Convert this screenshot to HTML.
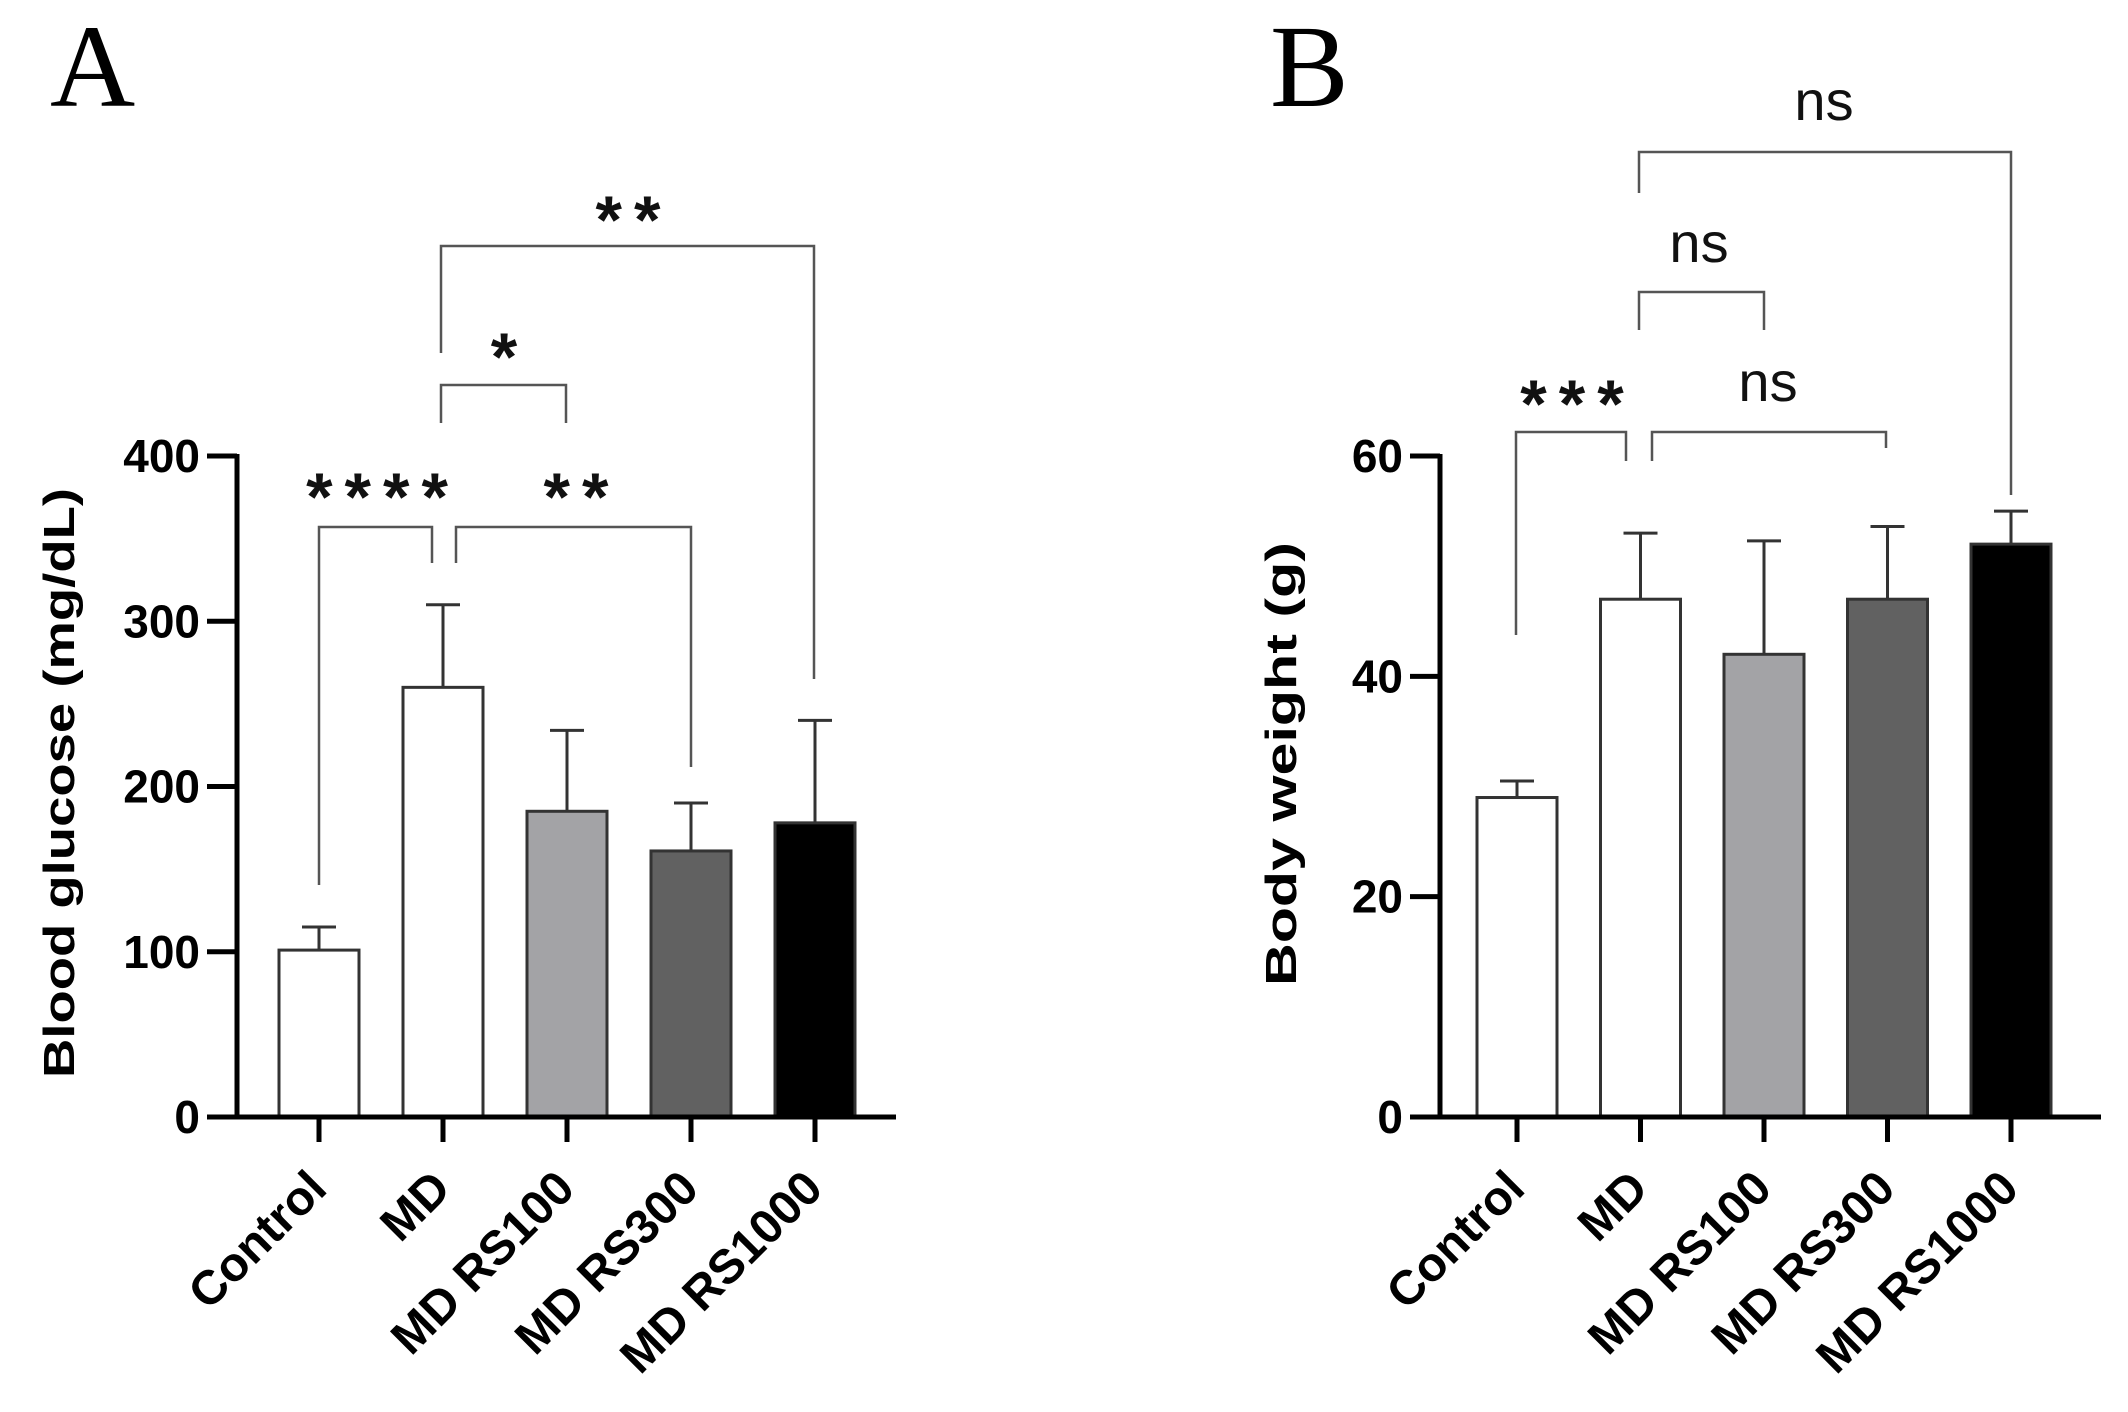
<!DOCTYPE html>
<html><head><meta charset="utf-8"><style>
html,body{margin:0;padding:0;background:#fff;}
svg{display:block;}
text{font-family:"Liberation Sans",Arial,sans-serif;}
</style></head><body>
<svg id="chart" width="2128" height="1412" viewBox="0 0 2128 1412" xmlns="http://www.w3.org/2000/svg">
<text x="50" y="106" style="font-family:'Liberation Serif',serif" font-size="118">A</text>
<text x="1270" y="106" style="font-family:'Liberation Serif',serif" font-size="118">B</text>
<g id="pa"></g>
<g id="pb"></g>
</svg>
<script>
const categories = ["Control","MD","MD RS100","MD RS300","MD RS1000"];
const glucoseMeans = [101, 260, 185, 161, 178];
const glucoseErr = [14, 50, 49, 29, 62];
const glucoseTicks = [0, 100, 200, 300, 400];
const weightMeans = [29, 47, 42, 47, 52];
const weightErr = [1.5, 6, 10.3, 6.6, 3];
const weightTicks = [0, 20, 40, 60];
const fills = ["#ffffff","#ffffff","#a3a3a6","#616161","#000000"];
const glucoseSig = [["****",0,1],["**",1,3],["*",1,2],["**",1,4]];
const weightSig = [["***",0,1],["ns",1,3],["ns",1,2],["ns",1,4]];

const NS = "http://www.w3.org/2000/svg";
function mk(parent, tag, attrs){ const e=document.createElementNS(NS,tag); for(const k in attrs) e.setAttribute(k,attrs[k]); parent.appendChild(e); return e; }

function drawPanel(g, cfg){
  const y0=1117, yTop=456;
  const yScale = v => y0 - (v/cfg.ymax)*(y0-yTop);
  const xScale = i => cfg.x0 + i*cfg.step;
  cfg.means.forEach((m,i)=>{
    const cx=xScale(i), top=yScale(m), et=yScale(m+cfg.err[i]);
    const el=mk(g,'line',{x1:cx,x2:cx,y1:top,y2:et,stroke:'#333','stroke-width':3});
    
    
    const cap=mk(g,'line',{x1:cx-17,x2:cx+17,y1:et,y2:et,stroke:'#333','stroke-width':3});
    
    
    const r=mk(g,'rect',{x:cx-40,y:top,width:80,height:y0-top,fill:fills[i],stroke:'#333','stroke-width':3});
    
    
  });
  const ya=mk(g,'line',{x1:cfg.ax,x2:cfg.ax,y1:yTop-2,y2:y0+2,stroke:'#000','stroke-width':5});
  
  
  const xa=mk(g,'line',{x1:cfg.ax-2,x2:cfg.xend,y1:y0,y2:y0,stroke:'#000','stroke-width':5});
  
  
  cfg.ticks.forEach(t=>{
    const y=yScale(t);
    const tk=mk(g,'line',{x1:cfg.ax-30,x2:cfg.ax,y1:y,y2:y,stroke:'#000','stroke-width':5});
    
    
    const tl=mk(g,'text',{x:cfg.ax-37,y:y+16,'text-anchor':'end','font-size':46,'font-weight':'bold'});
    tl.textContent=t;
    
    
  });
  categories.forEach((c,i)=>{
    const cx=xScale(i);
    const tk=mk(g,'line',{x1:cx,x2:cx,y1:y0,y2:y0+25,stroke:'#000','stroke-width':5});
    
    
    const tl=mk(g,'text',{x:0,y:0,'text-anchor':'end','font-size':48,'font-weight':'bold',transform:`translate(${cx+10},${y0+74}) rotate(-45)`});
    tl.textContent=c;
    
    
  });
  const yt=mk(g,'text',{x:0,y:0,'text-anchor':'middle','font-size':44,'font-weight':'bold',textLength:cfg.titleLen,lengthAdjust:'spacingAndGlyphs',transform:`translate(${cfg.titleX},${cfg.titleY}) rotate(-90)`});
  yt.textContent=cfg.title;
  
  
  cfg.sig.forEach((s,k)=>{
    const b=cfg.brk[k];
    const p=mk(g,'path',{d:`M${b[0]},${b[3]} V${b[2]} H${b[1]} V${b[4]}`,fill:'none',stroke:'#555','stroke-width':2.5});
    
    
    const isStar=s[0].indexOf('*')>=0;
    const t=mk(g,'text',{x:b[5],y:isStar?b[6]+38:b[6]+18,'text-anchor':'middle','font-size':isStar?68:56,'font-weight':isStar?'bold':'normal','letter-spacing':isStar?12:0,fill:'#111'});
    t.textContent=s[0];
    
    
  });
}
drawPanel(document.getElementById('pa'),{
  x0:319,step:124,ax:237,xend:896,ymax:400,ticks:glucoseTicks,means:glucoseMeans,err:glucoseErr,
  title:"Blood glucose (mg/dL)",titleX:74,titleY:783,titleLen:590,sig:glucoseSig,
  brk:[[319,432,527,885,563,383,482],[456,691,527,563,767,582,482],[441,566,385,423,423,510,342],[441,814,246,353,679,634,205]]
});
drawPanel(document.getElementById('pb'),{
  x0:1517,step:123.5,ax:1440,xend:2101,ymax:60,ticks:weightTicks,means:weightMeans,err:weightErr,
  title:"Body weight (g)",titleX:1296,titleY:764,titleLen:444,sig:weightSig,
  brk:[[1516,1626,432,635,461,1578,389],[1652,1886,432,461,448,1768,383],[1639,1764,292,330,330,1699,244],[1639,2011,152,193,495,1824,102]]
});
</script>
</body></html>
